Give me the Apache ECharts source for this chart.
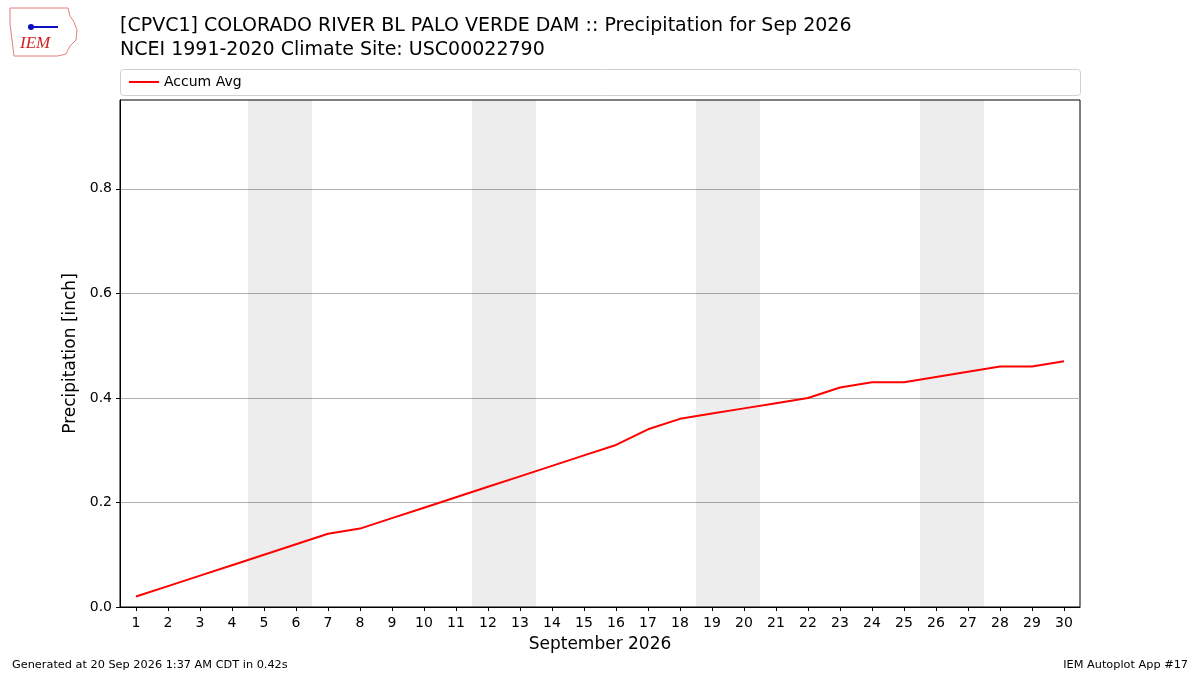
<!DOCTYPE html>
<html lang="en">
  <head>
    <meta charset="UTF-8" />
    <title>CPVC1 Precipitation</title>
    <style>
      body {
        margin: 0;
        overflow: hidden;
        background: #fff;
      }
    </style>
    <script src="https://cdn.jsdelivr.net/npm/echarts@6/dist/echarts.min.js"></script>
  </head>

  <body>
    <div id="chart" style="width: 1200px; height: 675px"></div>
    <script>
      // days of September 2026
      var days = [];
      for (var d = 1; d <= 30; d++) days.push(d);
      // accumulated average precipitation (inch)
      var accumAvg = [
        0.02, 0.04, 0.06, 0.08, 0.10, 0.12, 0.14, 0.15, 0.17, 0.19,
        0.21, 0.23, 0.25, 0.27, 0.29, 0.31, 0.34, 0.36, 0.37, 0.38,
        0.39, 0.40, 0.42, 0.43, 0.43, 0.44, 0.45, 0.46, 0.46, 0.47
      ];
      // saturdays -> weekend shading covers sat + sun
      var saturdays = [5, 12, 19, 26];
      var yTicks = [0, 0.2, 0.4, 0.6, 0.8];

      var font = "DejaVu Sans";
      var weekendAreas = saturdays.map(function (s) {
        return [{ xAxis: s - 0.5 }, { xAxis: s + 1.5 }];
      });

      var option = {
        animation: false,
        textStyle: { fontFamily: font },
        grid: {
          left: 120,
          right: 120,
          top: 100,
          bottom: 68,
          show: true,
          borderColor: "#000",
          borderWidth: 1,
          backgroundColor: "transparent",
        },
        legend: {
          left: 124,
          top: 70,
          itemWidth: 30,
          itemHeight: 2,
          textStyle: { fontSize: 14, color: "#000", fontFamily: font },
          data: [{ name: "Accum Avg", icon: "rect" }],
        },
        graphic: [
          {
            type: "rect",
            shape: { x: 120.5, y: 69.5, width: 960, height: 26, r: 3 },
            style: { fill: "#fff", stroke: "#d0d0d0", lineWidth: 1 },
            z: -1,
          },
          {
            type: "text",
            left: 120,
            top: 14,
            style: {
              text: "[CPVC1] COLORADO RIVER BL PALO VERDE DAM :: Precipitation for Sep 2026\nNCEI 1991-2020 Climate Site: USC00022790",
              font: "19px " + font,
              lineHeight: 24,
              fill: "#000",
            },
          },
          {
            type: "text",
            left: 12,
            top: 660,
            style: {
              text: "Generated at 20 Sep 2026 1:37 AM CDT in 0.42s",
              font: "11.3px " + font,
              fill: "#000",
            },
          },
          {
            type: "text",
            right: 12,
            top: 660,
            style: {
              text: "IEM Autoplot App #17",
              font: "11.3px " + font,
              fill: "#000",
            },
          },
          // small IEM logo
          {
            type: "polygon",
            shape: {
              points: [
                [10, 8], [68, 8], [70, 16], [74, 22], [77, 30], [76, 40],
                [70, 46], [66, 54], [58, 56], [14, 56], [12, 40], [10, 24],
              ],
            },
            style: { fill: "#fff", stroke: "#e08080", lineWidth: 1 },
          },
          {
            type: "line",
            shape: { x1: 28, y1: 27, x2: 58, y2: 27 },
            style: { stroke: "#1010c0", lineWidth: 2 },
          },
          {
            type: "circle",
            shape: { cx: 31, cy: 27, r: 3 },
            style: { fill: "#1010c0" },
          },
          {
            type: "text",
            left: 20,
            top: 35,
            style: {
              text: "IEM",
              font: "italic 17px 'Liberation Serif'",
              fill: "#d02020",
            },
          },
        ],
        xAxis: {
          type: "value",
          min: 0.5,
          max: 30.5,
          name: "September 2026",
          nameLocation: "middle",
          nameGap: 29,
          nameTextStyle: { fontSize: 17, color: "#000" },
          axisLine: { show: true, lineStyle: { color: "#000" } },
          axisTick: {
            show: true,
            length: 4,
            customValues: days,
            lineStyle: { color: "#000" },
          },
          axisLabel: {
            customValues: days,
            fontSize: 14,
            color: "#000",
            margin: 9,
          },
          splitLine: { show: false },
        },
        yAxis: {
          type: "value",
          min: 0,
          max: 0.97,
          name: "Precipitation [inch]",
          nameLocation: "middle",
          nameGap: 36,
          nameTextStyle: { fontSize: 17, color: "#000" },
          axisLine: { show: true, lineStyle: { color: "#000" } },
          axisTick: {
            show: true,
            length: 4,
            customValues: yTicks,
            lineStyle: { color: "#000" },
          },
          axisLabel: {
            customValues: yTicks,
            fontSize: 14,
            color: "#000",
            margin: 8,
            formatter: function (v) {
              return v.toFixed(1);
            },
          },
          interval: 0.2,
          splitLine: { show: true, lineStyle: { color: "#b0b0b0", width: 1 } },
        },
        series: [
          {
            name: "Accum Avg",
            type: "line",
            data: days.map(function (d, i) {
              return [d, accumAvg[i]];
            }),
            showSymbol: false,
            lineStyle: { color: "#ff0000", width: 2 },
            itemStyle: { color: "#ff0000" },
            markArea: {
              silent: true,
              itemStyle: { color: "rgba(0,0,0,0.07)" },
              data: weekendAreas,
            },
          },
        ],
      };

      var myChart = echarts.init(document.getElementById("chart"));
      myChart.setOption(option);
    </script>
  </body>
</html>
